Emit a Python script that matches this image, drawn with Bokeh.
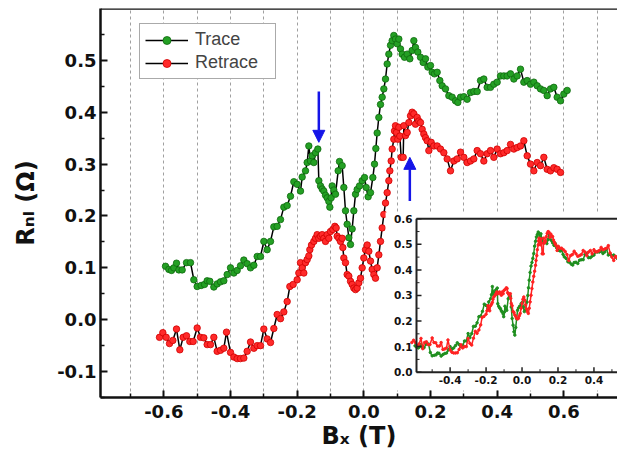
from bokeh.plotting import figure
from bokeh.models import (Range1d, FixedTicker, PrintfTickFormatter, Legend, LegendItem,
                          Span, Arrow, NormalHead)
from bokeh.core.properties import value
from bokeh.embed import file_html
from bokeh.resources import INLINE
import math

# ---------------- data ----------------
trace_x = [-0.595, -0.585, -0.577, -0.570, -0.562, -0.555, -0.545, -0.532, -0.520, -0.510,
           -0.500, -0.488, -0.478, -0.470, -0.462, -0.450, -0.440, -0.430, -0.420, -0.410,
           -0.400, -0.390, -0.380, -0.370, -0.360, -0.350, -0.340, -0.330, -0.320, -0.310,
           -0.300, -0.290, -0.280, -0.270, -0.260, -0.250, -0.240, -0.230, -0.220, -0.210,
           -0.200, -0.190, -0.185, -0.175, -0.170, -0.165, -0.160, -0.155, -0.150, -0.145,
           -0.138, -0.135, -0.130, -0.125, -0.120, -0.115, -0.110, -0.105, -0.102, -0.098,
           -0.095, -0.090, -0.085, -0.077, -0.073, -0.065, -0.060, -0.055, -0.050, -0.045,
           -0.040, -0.035, -0.030, -0.025, -0.020, -0.013, -0.005, 0.002, 0.007, 0.013,
           0.020, 0.027, 0.032, 0.036, 0.040, 0.045, 0.050, 0.055, 0.060, 0.065,
           0.070, 0.075, 0.080, 0.085, 0.090, 0.095, 0.100, 0.105, 0.110, 0.115,
           0.122, 0.130, 0.138, 0.145, 0.150, 0.155, 0.162, 0.170, 0.178, 0.185,
           0.192, 0.200, 0.205, 0.212, 0.220, 0.228, 0.235, 0.245, 0.255, 0.265,
           0.275, 0.282, 0.290, 0.300, 0.310, 0.320, 0.330, 0.340, 0.350, 0.360,
           0.370, 0.380, 0.390, 0.400, 0.410, 0.420, 0.430, 0.440, 0.450, 0.460,
           0.470, 0.480, 0.490, 0.500, 0.510, 0.520, 0.530, 0.540, 0.550, 0.560,
           0.570, 0.580, 0.590, 0.600, 0.610]
trace_y = [0.103, 0.097, 0.095, 0.100, 0.109, 0.096, 0.096, 0.110, 0.110, 0.077,
           0.064, 0.066, 0.068, 0.075, 0.074, 0.063, 0.069, 0.073, 0.075, 0.087,
           0.100, 0.090, 0.095, 0.104, 0.115, 0.108, 0.100, 0.105, 0.122, 0.122,
           0.151, 0.135, 0.151, 0.179, 0.180, 0.193, 0.217, 0.220, 0.238, 0.266,
           0.261, 0.248, 0.275, 0.287, 0.303, 0.335, 0.306, 0.316, 0.303, 0.322,
           0.329, 0.268, 0.258, 0.252, 0.248, 0.240, 0.235, 0.228, 0.217, 0.235,
           0.258, 0.250, 0.242, 0.287, 0.305, 0.297, 0.255, 0.210, 0.184, 0.158,
           0.145, 0.175, 0.210, 0.242, 0.251, 0.258, 0.268, 0.274, 0.255, 0.237,
           0.245, 0.274, 0.300, 0.330, 0.360, 0.390, 0.415, 0.429, 0.445, 0.464,
           0.493, 0.512, 0.529, 0.538, 0.548, 0.541, 0.532, 0.541, 0.522, 0.512,
           0.506, 0.512, 0.503, 0.519, 0.538, 0.525, 0.516, 0.506, 0.496, 0.503,
           0.487, 0.490, 0.477, 0.474, 0.477, 0.461, 0.451, 0.445, 0.432, 0.429,
           0.422, 0.419, 0.429, 0.430, 0.425, 0.438, 0.440, 0.440, 0.461, 0.464,
           0.448, 0.448, 0.454, 0.458, 0.470, 0.470, 0.470, 0.474, 0.464, 0.470,
           0.483, 0.458, 0.461, 0.454, 0.458, 0.451, 0.445, 0.442, 0.432, 0.445,
           0.448, 0.429, 0.422, 0.435, 0.442]

retrace_x = [-0.613, -0.603, -0.593, -0.583, -0.573, -0.562, -0.552, -0.542, -0.532, -0.522,
             -0.512, -0.500, -0.490, -0.480, -0.470, -0.460, -0.450, -0.440, -0.430, -0.420,
             -0.412, -0.400, -0.390, -0.380, -0.370, -0.360, -0.350, -0.340, -0.330, -0.320,
             -0.310, -0.300, -0.290, -0.280, -0.270, -0.260, -0.250, -0.240, -0.230, -0.222,
             -0.212, -0.200, -0.195, -0.190, -0.185, -0.180, -0.175, -0.170, -0.165, -0.162,
             -0.157, -0.150, -0.145, -0.140, -0.135, -0.130, -0.125, -0.120, -0.115, -0.110,
             -0.105, -0.100, -0.093, -0.087, -0.083, -0.080, -0.075, -0.070, -0.065, -0.063,
             -0.060, -0.055, -0.050, -0.045, -0.040, -0.035, -0.030, -0.025, -0.020, -0.015,
             -0.010, -0.005, 0.000, 0.005, 0.010, 0.015, 0.020, 0.025, 0.030, 0.035,
             0.040, 0.045, 0.050, 0.055, 0.060, 0.065, 0.070, 0.075, 0.078, 0.082,
             0.085, 0.090, 0.092, 0.095, 0.098, 0.102, 0.105, 0.108, 0.112, 0.118,
             0.120, 0.125, 0.130, 0.135, 0.140, 0.145, 0.150, 0.155, 0.160, 0.165,
             0.170, 0.175, 0.180, 0.185, 0.190, 0.195, 0.202, 0.210, 0.220, 0.230,
             0.240, 0.250, 0.260, 0.270, 0.280, 0.290, 0.300, 0.310, 0.320, 0.330,
             0.340, 0.350, 0.360, 0.370, 0.380, 0.390, 0.400, 0.410, 0.420, 0.430,
             0.440, 0.450, 0.460, 0.470, 0.480, 0.490, 0.500, 0.510, 0.520, 0.530,
             0.540, 0.550, 0.560, 0.570, 0.580, 0.590]
retrace_y = [-0.034, -0.025, -0.034, -0.046, -0.040, -0.018, -0.058, -0.034, -0.031, -0.042,
             -0.042, -0.016, -0.034, -0.035, -0.048, -0.048, -0.034, -0.061, -0.059, -0.055,
             -0.024, -0.063, -0.072, -0.075, -0.075, -0.074, -0.061, -0.043, -0.055, -0.050,
             -0.050, -0.018, -0.037, -0.044, -0.017, 0.010, 0.002, 0.015, 0.035, 0.064,
             0.068, 0.077, 0.090, 0.110, 0.100, 0.090, 0.110, 0.116, 0.123, 0.135,
             0.144, 0.151, 0.157, 0.164, 0.157, 0.161, 0.164, 0.157, 0.151, 0.164,
             0.157, 0.170, 0.174, 0.180, 0.177, 0.161, 0.157, 0.151, 0.157, 0.139,
             0.119, 0.110, 0.087, 0.084, 0.074, 0.068, 0.061, 0.058, 0.061, 0.071,
             0.080, 0.100, 0.119, 0.135, 0.144, 0.132, 0.113, 0.097, 0.087, 0.080,
             0.100, 0.125, 0.151, 0.177, 0.203, 0.225, 0.245, 0.268, 0.287, 0.306,
             0.329, 0.348, 0.364, 0.374, 0.361, 0.348, 0.371, 0.354, 0.313, 0.313,
             0.374, 0.355, 0.361, 0.380, 0.393, 0.400, 0.397, 0.377, 0.390, 0.383,
             0.380, 0.367, 0.358, 0.351, 0.345, 0.326, 0.342, 0.335, 0.335, 0.329,
             0.322, 0.310, 0.287, 0.306, 0.310, 0.323, 0.313, 0.303, 0.306, 0.310,
             0.326, 0.320, 0.306, 0.320, 0.326, 0.313, 0.329, 0.320, 0.322, 0.326,
             0.338, 0.329, 0.332, 0.335, 0.345, 0.316, 0.300, 0.287, 0.303, 0.297,
             0.313, 0.290, 0.287, 0.293, 0.290, 0.284]

# inset: retrace shown with its offset removed
inset_retrace_offset = 0.15
inset_retrace_y = [v + inset_retrace_offset for v in retrace_y]

main_x_ticks = [-0.6, -0.4, -0.2, 0.0, 0.2, 0.4, 0.6]
main_x_minor = [-0.7, -0.5, -0.3, -0.1, 0.1, 0.3, 0.5, 0.7]
main_y_ticks = [-0.1, 0.0, 0.1, 0.2, 0.3, 0.4, 0.5]
main_y_minor = [-0.15, -0.05, 0.05, 0.15, 0.25, 0.35, 0.45, 0.55]
inset_x_ticks = [-0.4, -0.2, 0.0, 0.2, 0.4]
inset_x_minor = [-0.5, -0.3, -0.1, 0.1, 0.3, 0.5]
inset_y_ticks = [0.0, 0.1, 0.2, 0.3, 0.4, 0.5, 0.6]
inset_y_minor = [0.05, 0.15, 0.25, 0.35, 0.45, 0.55]

# arrow annotations (data coordinates)
arrow_down = dict(x=-0.135, y_start=0.44, y_end=0.342)
arrow_up = dict(x=0.138, y_start=0.229, y_end=0.313)

GREEN = "#24a024"
GREEN_EDGE = "#0f6a0f"
RED = "#ff2a2a"
RED_EDGE = "#d00000"
BLUE = "#1515e8"
AXIS = "#111111"
TICK_FONT = "DejaVu Sans"

# ---------------- main figure ----------------
p = figure(width=617, height=452, x_range=Range1d(-0.79, 0.761), y_range=Range1d(-0.15, 0.6),
           output_backend="svg", toolbar_location=None,
           min_border_left=100, min_border_right=0, min_border_top=8, min_border_bottom=55)
p.outline_line_color = None
p.background_fill_color = "white"
p.border_fill_color = "white"

for ax in (p.xaxis[0], p.yaxis[0]):
    ax.axis_line_color = AXIS
    ax.axis_line_width = 2.5
    ax.major_tick_line_color = AXIS
    ax.major_tick_line_width = 2
    ax.major_tick_in = 7
    ax.major_tick_out = 0
    ax.minor_tick_line_color = AXIS
    ax.minor_tick_line_width = 1.5
    ax.minor_tick_in = 4
    ax.minor_tick_out = 0
    ax.major_label_text_font = TICK_FONT
    ax.major_label_text_font_style = "bold"
    ax.major_label_text_font_size = "18px"
    ax.major_label_text_color = "#111111"
    ax.formatter = PrintfTickFormatter(format="%.1f")
    ax.axis_label_text_font = TICK_FONT
    ax.axis_label_text_font_style = "bold"
    ax.axis_label_text_font_size = "24px"
    ax.axis_label_text_color = "#111111"

p.xaxis[0].ticker = FixedTicker(ticks=main_x_ticks, minor_ticks=main_x_minor)
p.yaxis[0].ticker = FixedTicker(ticks=main_y_ticks, minor_ticks=main_y_minor)
p.xaxis[0].major_label_standoff = 7
p.yaxis[0].major_label_standoff = 4
p.xaxis[0].axis_label = "B\u2093 (T)"
p.xaxis[0].axis_label_standoff = 1
p.yaxis[0].axis_label = "R\u2099\u2097 (\u03a9)"
p.yaxis[0].axis_label_standoff = 14

p.xgrid.grid_line_color = "#a0a0a0"
p.xgrid.grid_line_dash = "3 3"
p.xgrid.grid_line_width = 1
p.xgrid.minor_grid_line_color = "#a0a0a0"
p.xgrid.minor_grid_line_dash = "3 3"
p.xgrid.minor_grid_line_width = 1
p.ygrid.grid_line_color = None

# top frame line
p.add_layout(Span(location=0.6, dimension="width", line_color=AXIS, line_width=2.5))

g_line = p.line(trace_x, trace_y, line_color="black", line_width=1.5)
g_pts = p.scatter(trace_x, trace_y, size=6.5, fill_color=GREEN, line_color=GREEN_EDGE, line_width=0.8)
r_line = p.line(retrace_x, retrace_y, line_color="black", line_width=1.5)
r_pts = p.scatter(retrace_x, retrace_y, size=6.5, fill_color=RED, line_color=RED_EDGE, line_width=0.8)

legend = Legend(items=[LegendItem(label="Trace", renderers=[g_line, g_pts]),
                       LegendItem(label="Retrace", renderers=[r_line, r_pts])],
                location=(39, 318), margin=0, padding=5, spacing=2,
                glyph_width=43, glyph_height=20, label_height=20, label_width=75,
                label_standoff=7,
                label_text_font="Liberation Sans", label_text_font_size="18px",
                border_line_color="#555555", border_line_width=1.2,
                background_fill_color="white", background_fill_alpha=1.0)
p.add_layout(legend)

for a in (arrow_down, arrow_up):
    p.add_layout(Arrow(end=NormalHead(size=12, fill_color=BLUE, line_color=BLUE, line_width=1),
                       x_start=a["x"], y_start=a["y_start"], x_end=a["x"], y_end=a["y_end"],
                       line_color=BLUE, line_width=2.5))

# ---------------- inset (sub-coordinate system inside the main frame) ----------------
inset_x_range = Range1d(-0.587, 0.531)
inset_y_range = Range1d(0.0, 0.6)
ins = p.subplot(x_source=inset_x_range, y_source=inset_y_range,
                x_target=Range1d(0.158, 0.761), y_target=Range1d(-0.1012, 0.1946))

# white panel behind inset (frame + tick-label area)
ins.quad(left=[-0.759], right=[0.7], bottom=[-0.0716], top=[0.625],
         fill_color="white", line_color=None)

ins.line(trace_x, trace_y, line_color="#1f8f1f", line_width=1.5)
ins.scatter(trace_x, trace_y, size=2.5, fill_color="#1f8f1f", line_color="#1f8f1f")
ins.line(retrace_x, inset_retrace_y, line_color="#ff2222", line_width=1.5)
ins.scatter(retrace_x, inset_retrace_y, size=2.5, fill_color="#ff2222", line_color="#ff2222")

IA = "#222222"
x0, x1 = inset_x_range.start, 0.7
y0, y1 = inset_y_range.start, inset_y_range.end
# frame lines: left, bottom, top
ins.segment(x0=[x0, x0, x0], y0=[y0, y0, y1], x1=[x0, x1, x1], y1=[y1, y0, y1],
            line_color=IA, line_width=2)
# inward ticks
ins.ray(x=inset_x_ticks, y=[y0] * len(inset_x_ticks), length=5, angle=math.pi / 2,
        length_units="screen", line_color=IA, line_width=1.5)
ins.ray(x=inset_x_minor, y=[y0] * len(inset_x_minor), length=3, angle=math.pi / 2,
        length_units="screen", line_color=IA, line_width=1)
ins.ray(x=[x0] * len(inset_y_ticks), y=inset_y_ticks, length=5, angle=0,
        length_units="screen", line_color=IA, line_width=1.5)
ins.ray(x=[x0] * len(inset_y_minor), y=inset_y_minor, length=3, angle=0,
        length_units="screen", line_color=IA, line_width=1)
# tick labels
ins.text(x=inset_x_ticks, y=[y0] * len(inset_x_ticks), text=[f"{t:.1f}" for t in inset_x_ticks],
         y_offset=4, text_align="center", text_baseline="top",
         text_font=value(TICK_FONT), text_font_style="bold", text_font_size="10.5px",
         text_color="#111111")
ins.text(x=[x0] * len(inset_y_ticks), y=inset_y_ticks, text=[f"{t:.1f}" for t in inset_y_ticks],
         x_offset=-4, text_align="right", text_baseline="middle",
         text_font=value(TICK_FONT), text_font_style="bold", text_font_size="10.5px",
         text_color="#111111")

open("out.html", "w").write(file_html(p, INLINE))
